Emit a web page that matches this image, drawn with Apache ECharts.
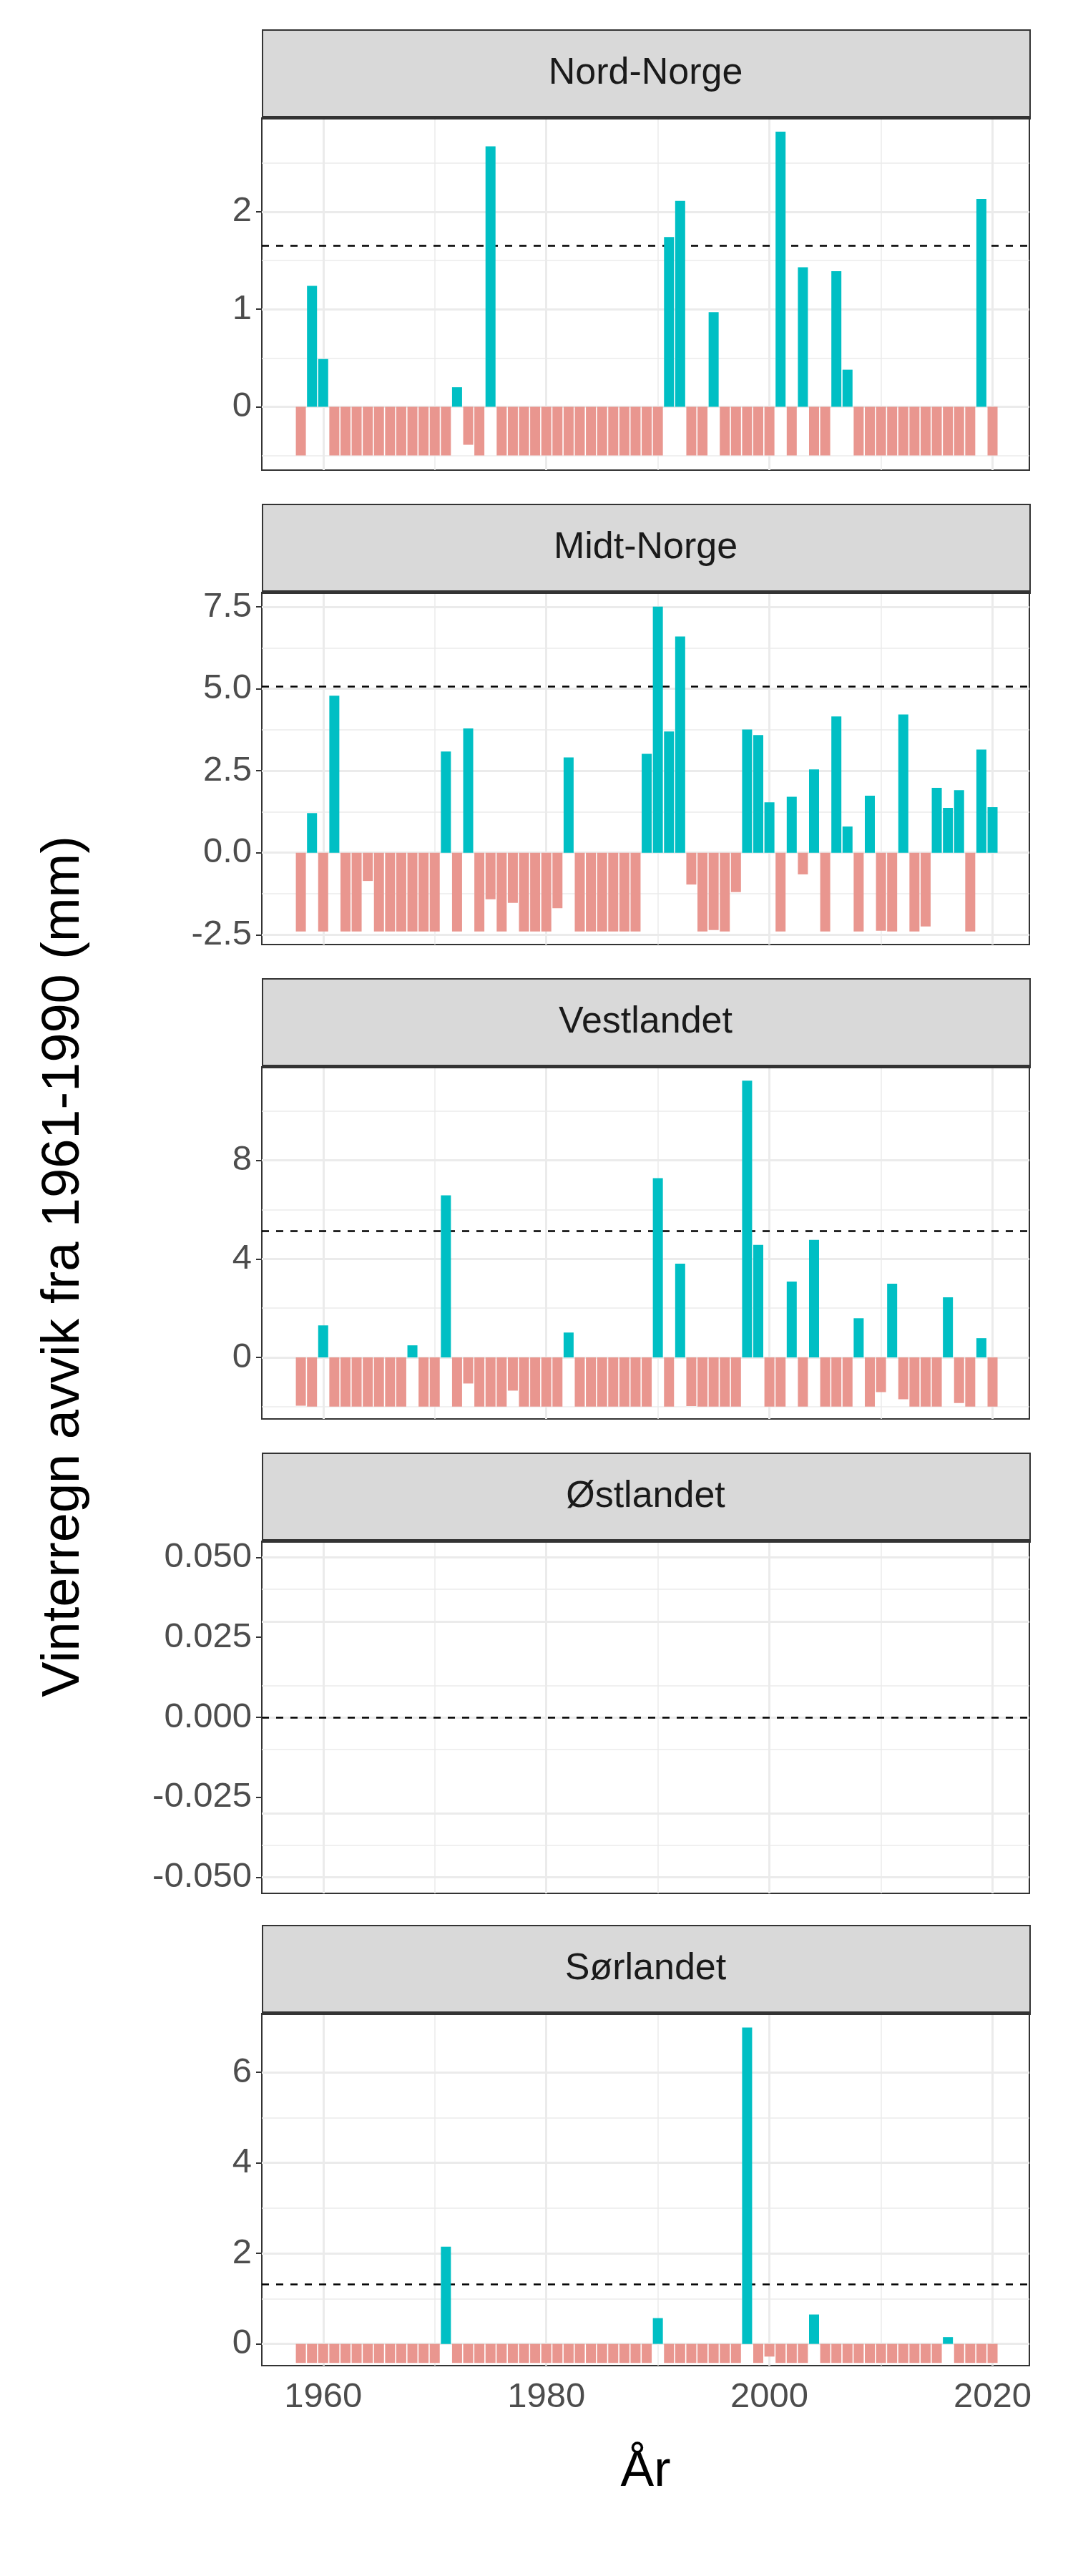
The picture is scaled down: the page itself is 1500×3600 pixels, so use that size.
<!DOCTYPE html>
<html>
<head>
<meta charset="utf-8">
<script src="https://cdn.jsdelivr.net/npm/echarts@6/dist/echarts.min.js"></script>
<style>html,body{margin:0;padding:0;background:#fff}#main{width:1500px;height:3600px}</style>
</head>
<body>
<div id="main"></div>
<script>
// years 1958-2020
var years = [];
for (var y = 1958; y <= 2020; y++) years.push(y);

var regions = ['Nord-Norge', 'Midt-Norge', 'Vestlandet', 'Østlandet', 'Sørlandet'];

var nordNorge = [-0.5,1.24,0.49,-0.5,-0.5,-0.5,-0.5,-0.5,-0.5,-0.5,-0.5,-0.5,-0.5,-0.5,0.2,-0.39,-0.5,2.67,
  -0.5,-0.5,-0.5,-0.5,-0.5,-0.5,-0.5,-0.5,-0.5,-0.5,-0.5,-0.5,-0.5,-0.5,-0.5,1.74,2.11,-0.5,-0.5,0.97,
  -0.5,-0.5,-0.5,-0.5,-0.5,2.82,-0.5,1.43,-0.5,-0.5,1.39,0.38,-0.5,-0.5,-0.5,-0.5,-0.5,-0.5,-0.5,-0.5,
  -0.5,-0.5,-0.5,2.13,-0.5];
var midtNorge = [-2.4,1.21,-2.4,4.79,-2.4,-2.4,-0.86,-2.4,-2.4,-2.4,-2.4,-2.4,-2.4,3.09,-2.4,3.79,-2.4,-1.42,
  -2.4,-1.53,-2.4,-2.4,-2.4,-1.69,2.91,-2.4,-2.4,-2.4,-2.4,-2.4,-2.4,3.02,7.51,3.7,6.6,-0.97,-2.4,-2.36,
  -2.4,-1.2,3.76,3.59,1.54,-2.4,1.71,-0.66,2.54,-2.4,4.16,0.8,-2.4,1.74,-2.38,-2.4,4.22,-2.4,-2.25,1.98,
  1.37,1.91,-2.4,3.15,1.39];
var vestlandet = [-1.96,-2,1.3,-2,-2,-2,-2,-2,-2,-2,0.49,-2,-2,6.58,-2,-1.06,-2,-2,-2,-1.35,-2,-2,-2,-2,
  1.01,-2,-2,-2,-2,-2,-2,-2,7.28,-2,3.81,-1.98,-2,-2,-2,-2,11.24,4.57,-2,-2,3.08,-2,4.77,-2,-2,-2,1.59,
  -2,-1.41,2.99,-1.7,-2,-2,-2,2.44,-1.85,-2,0.78,-2];
var ostlandet = [];
var sorlandet = [-0.42,-0.42,-0.42,-0.42,-0.42,-0.42,-0.42,-0.42,-0.42,-0.42,-0.42,-0.42,-0.42,2.15,
  -0.42,-0.42,-0.42,-0.42,-0.42,-0.42,-0.42,-0.42,-0.42,-0.42,-0.42,-0.42,-0.42,-0.42,-0.42,-0.42,-0.42,-0.42,
  0.57,-0.42,-0.42,-0.42,-0.42,-0.42,-0.42,-0.42,6.99,-0.42,-0.28,-0.42,-0.42,-0.42,0.65,-0.42,-0.42,-0.42,
  -0.42,-0.42,-0.42,-0.42,-0.42,-0.42,-0.42,-0.42,0.15,-0.42,-0.42,-0.42,-0.42];
var values = [nordNorge, midtNorge, vestlandet, ostlandet, sorlandet];

// dashed reference line per panel
var refLine = [1.645, 5.08, 5.13, 0, 1.32];

// y ranges and grid / tick values
var yMin = [-0.65, -2.8, -2.5, -0.055, -0.48];
var yMax = [2.96, 7.94, 11.8, 0.055, 7.3];
var yMajor = [[0, 1, 2], [-2.5, 0, 2.5, 5, 7.5], [0, 4, 8], [-0.05, -0.025, 0, 0.025, 0.05], [0, 2, 4, 6]];
var yMinor = [[-0.5, 0.5, 1.5, 2.5], [-1.25, 1.25, 3.75, 6.25], [-2, 2, 6, 10],
  [-0.0375, -0.0125, 0.0125, 0.0375], [1, 3, 5]];
var yDecimals = [0, 1, 0, 3, 0];

var xMajor = [1960, 1980, 2000, 2020];
var xMinor = [1970, 1990, 2010];

var gridTops = [165, 828, 1491, 2154, 2814];
var plotH = 492, stripH = 124, left = 366, right = 61;

var chart = echarts.init(document.getElementById('main'), null, {renderer: 'canvas'});

var grids = [], xAxes = [], yAxes = [], series = [], graphics = [];
var font = 'Liberation Sans, Arial, sans-serif';

function glines(vals, axis, w) {
  return vals.map(function (v) {
    var o = {lineStyle: {width: w}};
    o[axis] = v;
    return o;
  });
}

for (var i = 0; i < 5; i++) {
  grids.push({left: left, right: right, top: gridTops[i], height: plotH,
    show: true, borderColor: '#333333', borderWidth: 2, backgroundColor: '#fff', containLabel: false});
  xAxes.push({type: 'value', gridIndex: i, min: 1954.5, max: 2023.3,
    axisLine: {show: false}, splitLine: {show: false},
    axisTick: {show: i === 4, length: 8, lineStyle: {color: '#333', width: 2}, customValues: xMajor},
    axisLabel: {show: i === 4, customValues: xMajor, color: '#4d4d4d', fontSize: 49, fontFamily: font, margin: 20,
      formatter: function (v) { return String(v); }}
  });
  (function (d) {
    yAxes.push({type: 'value', gridIndex: i, min: yMin[i], max: yMax[i],
      axisLine: {show: false}, splitLine: {show: false},
      axisTick: {show: true, length: 8, lineStyle: {color: '#333', width: 2}, customValues: yMajor[i]},
      axisLabel: {customValues: yMajor[i], color: '#4d4d4d', fontSize: 49, fontFamily: font, margin: 14,
        formatter: function (v) { return v.toFixed(d); }}
    });
  })(yDecimals[i]);

  // background grid lines
  series.push({type: 'line', xAxisIndex: i, yAxisIndex: i, data: [], zlevel: 0, z: 1, silent: true,
    markLine: {silent: true, symbol: 'none', label: {show: false}, animation: false,
      lineStyle: {color: '#EBEBEB', type: 'solid'},
      data: glines(yMinor[i], 'yAxis', 1.5).concat(glines(xMinor, 'xAxis', 1.5))
        .concat(glines(yMajor[i], 'yAxis', 3)).concat(glines(xMajor, 'xAxis', 3))}
  });

  var d = values[i].map(function (v, k) { return [years[k], v]; });
  series.push({type: 'bar', xAxisIndex: i, yAxisIndex: i, data: d, barWidth: 14, zlevel: 1, z: 3,
    animation: false,
    itemStyle: {color: function (p) { return p.value[1] > 0 ? '#00BFC4' : '#E9968F'; }},
    markLine: {silent: true, symbol: 'none', label: {show: false}, animation: false,
      lineStyle: {color: '#000', type: [10, 10], width: 2.5},
      data: [{yAxis: refLine[i]}]}
  });

  // strip
  graphics.push({type: 'rect', left: left, top: gridTops[i] - stripH, zlevel: 2, z: 10,
    shape: {width: 1500 - left - right, height: stripH},
    style: {fill: '#D9D9D9', stroke: '#333333', lineWidth: 2}});
  graphics.push({type: 'rect', left: left, top: gridTops[i] - 3, zlevel: 2, z: 11,
    shape: {width: 1500 - left - right, height: 5}, style: {fill: '#333333'}});
  graphics.push({type: 'text', x: left + (1500 - left - right) / 2, y: gridTops[i] - stripH / 2, zlevel: 2, z: 12,
    style: {text: regions[i], fill: '#1a1a1a', font: '52px ' + font, align: 'center', verticalAlign: 'middle'}});
}

graphics.push({type: 'text', x: 90, y: 1770, rotation: Math.PI / 2, zlevel: 2, z: 12,
  style: {text: 'Vinterregn avvik fra 1961-1990 (mm)', fill: '#000', font: '74px ' + font,
    align: 'center', verticalAlign: 'middle'}});
graphics.push({type: 'text', x: left + (1500 - left - right) / 2, y: 3455, zlevel: 2, z: 12,
  style: {text: 'År', fill: '#000', font: '70px ' + font, align: 'center', verticalAlign: 'middle'}});

chart.setOption({
  backgroundColor: '#fff',
  animation: false,
  grid: grids,
  xAxis: xAxes,
  yAxis: yAxes,
  series: series,
  graphic: graphics
});
</script>
</body>
</html>
